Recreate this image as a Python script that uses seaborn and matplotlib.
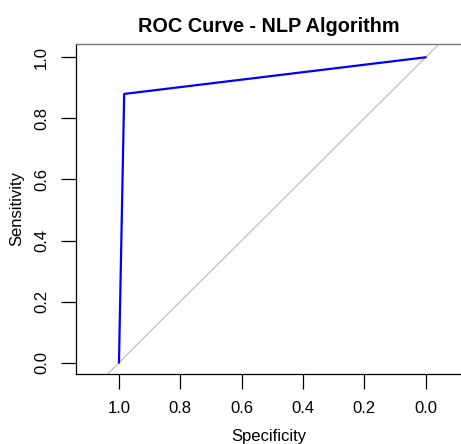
import matplotlib
matplotlib.use("Agg")
import matplotlib.pyplot as plt
import seaborn as sns
import pandas as pd

# Curva ROC (pROC style): especificidad vs sensibilidad
specificity = [1.0, 0.983, 0.0]
sensitivity = [0.0, 0.880, 1.0]
ticks = [0.0, 0.2, 0.4, 0.6, 0.8, 1.0]
diag_spec = [1.2, -0.2]

sns.set_style("white")
plt.rcParams["font.family"] = ["Liberation Sans", "DejaVu Sans"]
plt.rcParams["text.color"] = "black"
plt.rcParams["axes.labelcolor"] = "black"
plt.rcParams["xtick.color"] = "black"
plt.rcParams["ytick.color"] = "black"

df = pd.DataFrame({"Specificity": specificity, "Sensitivity": sensitivity})
df_diag = pd.DataFrame({"Specificity": diag_spec,
                        "Sensitivity": [1 - s for s in diag_spec]})

fig = plt.figure(figsize=(4.61, 4.44), dpi=100)
ax = fig.add_axes([0.1649, 0.1577, 0.8351, 0.7432])

sns.lineplot(data=df_diag, x="Specificity", y="Sensitivity", ax=ax,
             color="#bebebe", linewidth=0.9, sort=False)
sns.lineplot(data=df, x="Specificity", y="Sensitivity", ax=ax,
             color="#0000ff", linewidth=1.6, sort=False)

ax.set_xlim(1.140, -0.115)
ax.set_ylim(-0.037, 1.0435)
ax.set_xticks(ticks)
ax.set_yticks(ticks)
ax.set_xticklabels([f"{t:.1f}" for t in ticks])
ax.set_yticklabels([f"{t:.1f}" for t in ticks], rotation=90, va="center")
ax.tick_params(axis="both", which="both", direction="out", length=10.5,
               width=0.9, color="black", labelsize=12, pad=9,
               bottom=True, left=True)

for side in ["left", "bottom"]:
    ax.spines[side].set_color("black")
    ax.spines[side].set_linewidth(0.9)
ax.spines["top"].set_color("#777777")
ax.spines["top"].set_linewidth(1.0)
ax.spines["right"].set_visible(False)

ax.set_xlabel("Specificity", fontsize=12, labelpad=9)
ax.set_ylabel("Sensitivity", fontsize=12, labelpad=7)
ax.set_title("ROC Curve - NLP Algorithm", fontsize=14.3, fontweight="bold", pad=9)

fig.savefig("out.png", dpi=100)
